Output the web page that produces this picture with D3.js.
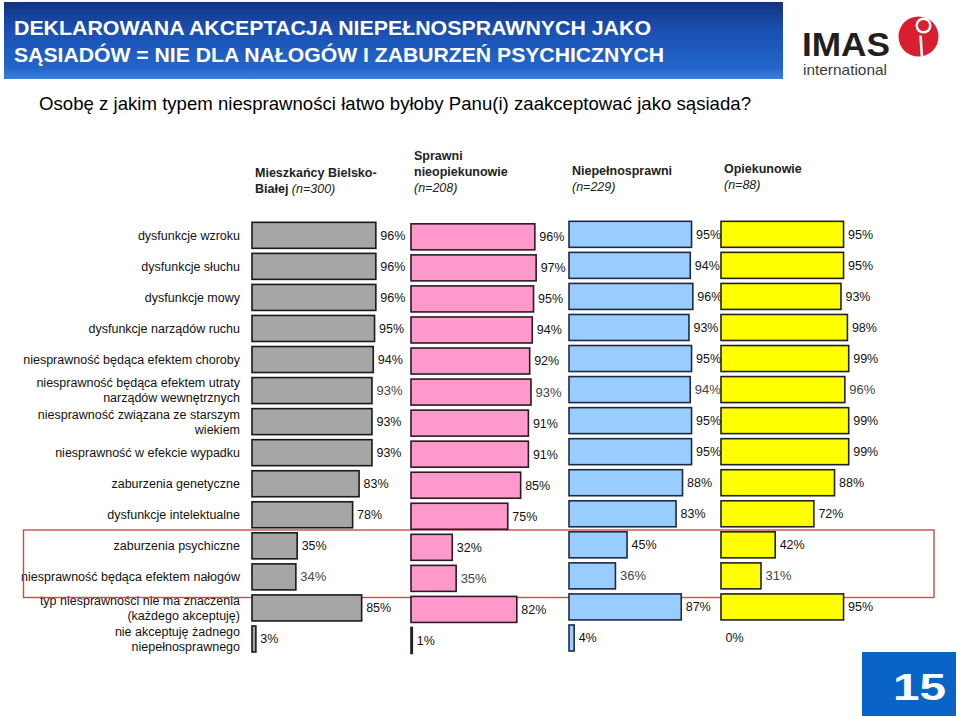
<!DOCTYPE html>
<html>
<head>
<meta charset="utf-8">
<script src="https://cdn.jsdelivr.net/npm/d3@7/dist/d3.min.js"></script>
<style>
  html, body { margin: 0; padding: 0; background: #fff; }
  svg { display: block; }
  text { font-family: "Liberation Sans", Arial, Helvetica, sans-serif; }
</style>
</head>
<body>
<svg id="chart" width="960" height="716"></svg>
<script>
// ---------- DATA ----------
const categories = [
  "dysfunkcje wzroku",
  "dysfunkcje słuchu",
  "dysfunkcje mowy",
  "dysfunkcje narządów ruchu",
  "niesprawność będąca efektem choroby",
  "niesprawność będąca efektem utraty\nnarządów wewnętrznych",
  "niesprawność związana ze starszym\nwiekiem",
  "niesprawność w efekcie wypadku",
  "zaburzenia genetyczne",
  "dysfunkcje intelektualne",
  "zaburzenia psychiczne",
  "niesprawność będąca efektem nałogów",
  "typ niesprawności nie ma znaczenia\n(każdego akceptuję)",
  "nie akceptuję żadnego\nniepełnosprawnego"
];
const mieszkancy      = [96, 96, 96, 95, 94, 93, 93, 93, 83, 78, 35, 34, 85, 3];
const sprawni         = [96, 97, 95, 94, 92, 93, 91, 91, 85, 75, 32, 35, 82, 1];
const niepelnosprawni = [95, 94, 96, 93, 95, 94, 95, 95, 88, 83, 45, 36, 87, 4];
const opiekunowie     = [95, 95, 93, 98, 99, 96, 99, 99, 88, 72, 42, 31, 95, 0];

const seriesNames = [
  ["Mieszkańcy Bielsko-", "Białej", "(n=300)"],
  ["Sprawni", "nieopiekunowie", "(n=208)"],
  ["Niepełnosprawni", "(n=229)"],
  ["Opiekunowie", "(n=88)"]
];
const titleLines = [
  "DEKLAROWANA AKCEPTACJA NIEPEŁNOSPRAWNYCH JAKO",
  "SĄSIADÓW = NIE DLA NAŁOGÓW I ZABURZEŃ PSYCHICZNYCH"
];
const question = "Osobę z jakim typem niesprawności łatwo byłoby Panu(i) zaakceptować jako sąsiada?";
const pageNumber = "15";

// ---------- STYLE / LAYOUT ----------
const series = [mieszkancy, sprawni, niepelnosprawni, opiekunowie];
const fills   = ["#a6a6a6", "#ff99cc", "#99ccff", "#ffff00"];
const strokes = ["#1a1a1a", "#2a1a22", "#1c2a48", "#222222"];
const colX    = [252, 411, 569, 721];
const colDy   = [0, 1.5, -1, -1];
const serifRows = new Set([5, 11]);

const svg = d3.select("#chart");
const defs = svg.append("defs");
const grad = defs.append("linearGradient").attr("id", "bannerGrad")
  .attr("x1", 0).attr("y1", 0).attr("x2", 0).attr("y2", 1);
grad.append("stop").attr("offset", "0%").attr("stop-color", "#12337f");
grad.append("stop").attr("offset", "35%").attr("stop-color", "#1a4fb0");
grad.append("stop").attr("offset", "85%").attr("stop-color", "#2266cc");
grad.append("stop").attr("offset", "100%").attr("stop-color", "#3a7ddc");

// Banner
svg.append("rect").attr("x", 4).attr("y", 2).attr("width", 779).attr("height", 77)
  .attr("fill", "url(#bannerGrad)");
svg.selectAll("text.title").data(titleLines).join("text")
  .attr("class", "title")
  .attr("x", 14)
  .attr("y", (d, i) => 35 + i * 27)
  .attr("fill", "#fff")
  .attr("font-size", 20)
  .attr("font-weight", "bold")
  .attr("textLength", (d, i) => i === 0 ? 637 : 650)
  .attr("lengthAdjust", "spacingAndGlyphs")
  .text(d => d);

// Logo
svg.append("text").attr("x", 802).attr("y", 56)
  .attr("font-size", 34).attr("font-weight", "bold").attr("fill", "#231f20")
  .attr("textLength", 88).attr("lengthAdjust", "spacingAndGlyphs").text("IMAS");
svg.append("text").attr("x", 803).attr("y", 75)
  .attr("font-size", 14.5).attr("fill", "#3a3a3a")
  .attr("textLength", 84).attr("lengthAdjust", "spacingAndGlyphs").text("international");
const logo = svg.append("g").attr("transform", "translate(918.5,36.5)");
logo.append("circle").attr("r", 20).attr("fill", "#d71f2f");
logo.append("circle").attr("cx", 5).attr("cy", -11).attr("r", 8).attr("fill", "#fff");
logo.append("circle").attr("cx", 5).attr("cy", -11).attr("r", 5.5).attr("fill", "#d71f2f");
logo.append("path")
  .attr("d", "M2,-1 L3.5,21")
  .attr("fill", "none").attr("stroke", "#fff").attr("stroke-width", 2.6);

// Question
svg.append("text").attr("x", 39).attr("y", 110)
  .attr("font-size", 19).attr("fill", "#000")
  .attr("textLength", 712).attr("lengthAdjust", "spacingAndGlyphs")
  .text(question);

// Column headers
const headerBase = [177, 160, 175, 173];
seriesNames.forEach((lines, si) => {
  if (si === 0) {
    svg.append("text").attr("font-size", 12.5).attr("fill", "#222")
      .attr("x", colX[si] + 3).attr("y", headerBase[si])
      .attr("font-weight", "bold").text(lines[0]);
    const t2 = svg.append("text").attr("font-size", 12.5).attr("fill", "#222")
      .attr("x", colX[si] + 3).attr("y", headerBase[si] + 16);
    t2.append("tspan").attr("font-weight", "bold").text(lines[1] + " ");
    t2.append("tspan").attr("font-style", "italic").text(lines[2]);
  } else {
    lines.forEach((ln, li) => {
      const isN = ln.startsWith("(n=");
      svg.append("text").attr("font-size", 12.5).attr("fill", "#222")
        .attr("x", colX[si] + 3).attr("y", headerBase[si] + li * 16)
        .attr("font-weight", isN ? "normal" : "bold")
        .attr("font-style", isN ? "italic" : "normal")
        .text(ln);
    });
  }
});

// Scales
const y = d3.scaleBand().domain(categories)
  .range([219.8, 219.8 + 14 * 31.05])
  .paddingInner(0.1626).paddingOuter(0.0813);
const x = d3.scaleLinear().domain([0, 100]).range([0, 129]);

// Row labels
const rowLabels = svg.append("g");
categories.forEach(cat => {
  const lines = cat.split("\n");
  const cy = y(cat) + y.bandwidth() / 2;
  const t = rowLabels.append("text").attr("text-anchor", "end")
    .attr("font-size", 12.5).attr("fill", "#111");
  lines.forEach((ln, li) => {
    t.append("tspan").attr("x", 240)
      .attr("y", cy + (li - (lines.length - 1) / 2) * 15)
      .attr("dy", "0.35em").text(ln);
  });
});

// Highlight rectangle
svg.append("rect").attr("x", 23.5).attr("y", 530).attr("width", 910.5).attr("height", 67.5)
  .attr("fill", "none").attr("stroke", "#cc4a4a").attr("stroke-width", 1.4);

// Bars
series.forEach((vals, si) => {
  const g = svg.append("g");
  const data = categories.map((c, i) => ({ c, i, v: vals[i] }));
  g.selectAll("rect").data(data.filter(d => d.v > 0)).join("rect")
    .attr("x", colX[si])
    .attr("y", d => y(d.c) + colDy[si])
    .attr("width", d => x(d.v))
    .attr("height", y.bandwidth())
    .attr("fill", fills[si])
    .attr("stroke", strokes[si])
    .attr("stroke-width", 1.6);
  g.selectAll("text").data(data).join("text")
    .attr("x", d => colX[si] + x(d.v) + 4.5)
    .attr("y", d => y(d.c) + y.bandwidth() / 2 + colDy[si])
    .attr("dy", "0.35em")
    .attr("font-size", d => serifRows.has(d.i) ? 13 : 12.5)
    .attr("font-family", d => serifRows.has(d.i) ? "'Liberation Serif', 'Times New Roman', serif" : null)
    .attr("fill", d => serifRows.has(d.i) ? "#444" : "#111")
    .text(d => d.v + "%");
});

// Page number box
svg.append("rect").attr("x", 862).attr("y", 652).attr("width", 94).attr("height", 64)
  .attr("fill", "#0a64c8");
svg.append("text").attr("x", 893).attr("y", 700)
  .attr("font-size", 36).attr("font-weight", "bold").attr("fill", "#fff")
  .attr("textLength", 53).attr("lengthAdjust", "spacingAndGlyphs")
  .text(pageNumber);
</script>
</body>
</html>
